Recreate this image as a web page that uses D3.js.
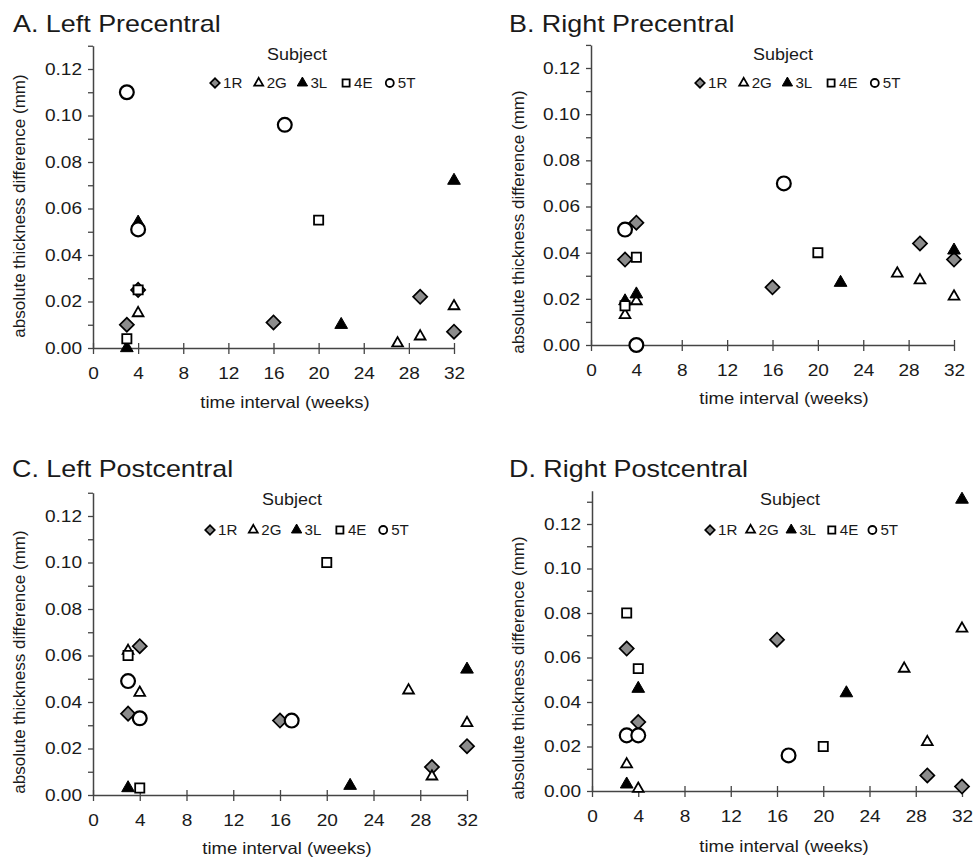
<!DOCTYPE html>
<html lang="en">
<head>
<meta charset="UTF-8">
<title>Absolute thickness difference vs time interval</title>
<script src="https://d3js.org/d3.v7.min.js"></script>
<style>
  body { margin: 0; background: #fff; }
  svg { display: block; font-family: "Liberation Sans", Arial, sans-serif; }
</style>
</head>
<body>
<svg width="974" height="859"></svg>
<script>
// subjects and the scan intervals (weeks) each one has
const subjects = ["1R", "2G", "3L", "4E", "5T"];
const weeks1R = [3, 4, 16, 29, 32];
const weeks2G = [3, 4, 27, 29, 32];
const weeks3L = [3, 4, 22, 32];
const weeks4E = [3, 4, 20];
const weeks5T = [3, 4, 17];

// absolute thickness difference (mm), null = not visible in the figure
const leftPre1R = [0.010, 0.025, 0.011, 0.022, 0.007];
const leftPre2G = [null, 0.015, 0.002, 0.005, 0.018];
const leftPre3L = [0.000, 0.054, 0.010, 0.072];
const leftPre4E = [0.004, 0.025, 0.055];
const leftPre5T = [0.110, 0.051, 0.096];

const rightPre1R = [0.037, 0.053, 0.025, 0.044, 0.037];
const rightPre2G = [0.013, 0.019, 0.031, 0.028, 0.021];
const rightPre3L = [0.019, 0.022, 0.027, 0.041];
const rightPre4E = [0.017, 0.038, 0.040];
const rightPre5T = [0.050, 0.000, 0.070];

const leftPost1R = [0.035, 0.064, 0.032, 0.012, 0.021];
const leftPost2G = [0.062, 0.044, 0.045, 0.008, 0.031];
const leftPost3L = [0.003, 0.033, 0.004, 0.054];
const leftPost4E = [0.060, 0.003, 0.100];
const leftPost5T = [0.049, 0.033, 0.032];

const rightPost1R = [0.064, 0.031, 0.068, 0.007, 0.002];
const rightPost2G = [0.012, 0.001, 0.055, 0.022, 0.073];
const rightPost3L = [0.003, 0.046, 0.044, 0.131];
const rightPost4E = [0.080, 0.055, 0.020];
const rightPost5T = [0.025, 0.025, 0.016];

const xTicks = [0, 4, 8, 12, 16, 20, 24, 28, 32];
const yTickLabels = ["0.00", "0.02", "0.04", "0.06", "0.08", "0.10", "0.12"];

const subjectWeeks = [weeks1R, weeks2G, weeks3L, weeks4E, weeks5T];

// layout of the four panels (pixel positions only)
const panels = [
  { title: "A. Left Precentral", values: [leftPre1R, leftPre2G, leftPre3L, leftPre4E, leftPre5T],
    tx: 13, ty: 32, x0: 93, x32: 454, y0: 348, y12: 69, yMax: 0.13,
    ylx: 25, yly: 206, xlx: 285, xly: 408, sx: 297, sy: 60, lx: 215, ly: 83, ldx: 43.7 },
  { title: "B. Right Precentral", values: [rightPre1R, rightPre2G, rightPre3L, rightPre4E, rightPre5T],
    tx: 509, ty: 32, x0: 591, x32: 954, y0: 345, y12: 68, yMax: 0.13,
    ylx: 524, yly: 222, xlx: 784, xly: 404, sx: 783, sy: 60, lx: 700, ly: 83, ldx: 43.7 },
  { title: "C. Left Postcentral", values: [leftPost1R, leftPost2G, leftPost3L, leftPost4E, leftPost5T],
    tx: 12, ty: 477, x0: 93, x32: 467, y0: 795, y12: 516, yMax: 0.13,
    ylx: 25, yly: 662, xlx: 287, xly: 854, sx: 292, sy: 505, lx: 210, ly: 530, ldx: 43.3 },
  { title: "D. Right Postcentral", values: [rightPost1R, rightPost2G, rightPost3L, rightPost4E, rightPost5T],
    tx: 509, ty: 477, x0: 592, x32: 962, y0: 791, y12: 524, yMax: 0.135,
    ylx: 524, yly: 668, xlx: 784, xly: 852, sx: 790, sy: 505, lx: 710, ly: 530, ldx: 40.6 }
];

// marker look per subject
const markers = [
  { type: d3.symbolSquare, rot: 45, size: 100, lsize: 46, fill: "#8c8c8c", sw: 1.7 },
  { type: d3.symbolTriangle, rot: 0, size: 50, lsize: 34, fill: "#fff", sw: 1.8 },
  { type: d3.symbolTriangle, rot: 0, size: 70, lsize: 46, fill: "#000", sw: 1 },
  { type: d3.symbolSquare, rot: 0, size: 84, lsize: 50, fill: "#fff", sw: 1.8 },
  { type: d3.symbolCircle, rot: 0, size: 150, lsize: 50, fill: "#fff", sw: 2.2 }
];

const ink = "#1a1a1a";
const axisCol = "#444";
const wide = 1.12; // glyphs in the figure are a bit wider than Arial

function stretch(sel, k) {
  sel.each(function () {
    const len = this.getComputedTextLength();
    if (len > 0) d3.select(this).attr("textLength", len * k).attr("lengthAdjust", "spacingAndGlyphs");
  });
}

const svg = d3.select("svg");

panels.forEach(p => {
  const g = svg.append("g");
  const x = d3.scaleLinear().domain([0, 32]).range([p.x0, p.x32]);
  const y0 = d3.scaleLinear().domain([0, 0.12]).range([p.y0, p.y12]);
  const y = d3.scaleLinear().domain([0, p.yMax]).range([p.y0, y0(p.yMax)]);

  g.append("text")
    .attr("x", p.tx).attr("y", p.ty)
    .attr("font-size", 24).attr("fill", ink)
    .text(p.title)
    .call(stretch, wide);

  // y axis, a tick every 0.01 and a label every 0.02
  const yVals = d3.range(0, Math.floor(p.yMax * 100 + 1e-6) + 1).map(i => i / 100);
  const yAxis = g.append("g")
    .attr("transform", `translate(${p.x0},0)`)
    .call(d3.axisLeft(y).tickValues(yVals).tickSize(5).tickSizeOuter(0).tickPadding(6)
      .tickFormat(d => {
        const s = d3.format(".2f")(d);
        return yTickLabels.includes(s) ? s : "";
      }));

  // x axis with ticks crossing the line
  const xAxis = g.append("g")
    .attr("transform", `translate(0,${p.y0})`)
    .call(d3.axisBottom(x).tickValues(xTicks).tickSize(6).tickSizeOuter(0).tickPadding(13));
  xAxis.selectAll(".tick line").attr("y1", -5);

  [yAxis, xAxis].forEach(a => {
    a.select(".domain").attr("stroke", axisCol).attr("stroke-width", 1.5);
    a.selectAll(".tick line").attr("stroke", axisCol).attr("stroke-width", 1.3);
    a.selectAll("text").attr("font-size", 17).attr("fill", ink)
      .attr("font-family", "Liberation Sans, Arial, sans-serif")
      .call(stretch, wide);
  });

  g.append("text")
    .attr("transform", `translate(${p.ylx},${p.yly}) rotate(-90)`)
    .attr("text-anchor", "middle").attr("font-size", 17).attr("fill", ink)
    .text("absolute thickness difference (mm)");

  g.append("text")
    .attr("x", p.xlx).attr("y", p.xly)
    .attr("text-anchor", "middle").attr("font-size", 16.5).attr("fill", ink)
    .text("time interval (weeks)")
    .call(stretch, wide);

  // legend
  g.append("text")
    .attr("x", p.sx).attr("y", p.sy)
    .attr("text-anchor", "middle").attr("font-size", 16).attr("fill", ink)
    .text("Subject")
    .call(stretch, wide);

  subjects.forEach((s, i) => {
    const m = markers[i];
    const cx = p.lx + i * p.ldx;
    g.append("path")
      .attr("d", d3.symbol().type(m.type).size(m.lsize)())
      .attr("transform", `translate(${cx},${p.ly}) rotate(${m.rot})`)
      .attr("fill", m.fill).attr("stroke", "#000").attr("stroke-width", Math.min(m.sw, 1.8));
    g.append("text")
      .attr("x", cx + 8).attr("y", p.ly + 5)
      .attr("font-size", 14).attr("fill", ink)
      .text(s)
      .call(stretch, 1.08);
  });

  // points, drawn subject by subject in legend order
  subjects.forEach((s, i) => {
    const m = markers[i];
    const pts = subjectWeeks[i]
      .map((w, j) => ({ w, v: p.values[i][j] }))
      .filter(d => d.v !== null);
    g.append("g").selectAll("path")
      .data(pts)
      .join("path")
      .attr("d", d3.symbol().type(m.type).size(m.size)())
      .attr("transform", d => `translate(${x(d.w)},${y(d.v)}) rotate(${m.rot})`)
      .attr("fill", m.fill).attr("stroke", "#000").attr("stroke-width", m.sw);
  });
});
</script>
</body>
</html>
